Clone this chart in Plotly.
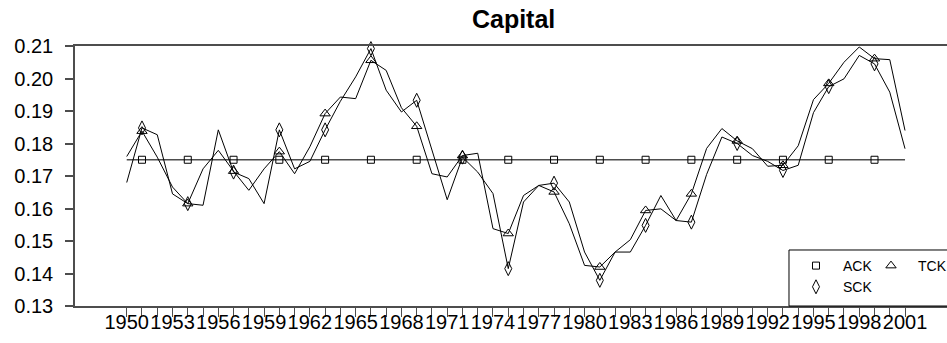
import plotly.graph_objects as go

# ---- data -----------------------------------------------------------------
years = list(range(1950, 2002))

ack = [0.175, 0.175, 0.175, 0.175, 0.175, 0.175, 0.175, 0.175, 0.175, 0.175,
       0.175, 0.175, 0.175, 0.175, 0.175, 0.175, 0.175, 0.175, 0.175, 0.175,
       0.175, 0.175, 0.175, 0.175, 0.175, 0.175, 0.175, 0.175, 0.175, 0.175,
       0.175, 0.175, 0.175, 0.175, 0.175, 0.175, 0.175, 0.175, 0.175, 0.175,
       0.175, 0.175, 0.175, 0.175, 0.175, 0.175, 0.175, 0.175, 0.175, 0.175,
       0.175, 0.175]

tck = [0.1760, 0.1838, 0.1758, 0.1666, 0.1615, 0.1722, 0.1779, 0.1715, 0.1656, 0.1722,
       0.1775, 0.1707, 0.1790, 0.1892, 0.1943, 0.1938, 0.2056, 0.2025, 0.1910, 0.1853,
       0.1707, 0.1697, 0.1763, 0.1770, 0.1538, 0.1523, 0.1640, 0.1671, 0.1651, 0.1553,
       0.1425, 0.1420, 0.1466, 0.1504, 0.1594, 0.1599, 0.1563, 0.1645, 0.1785, 0.1846,
       0.1808, 0.1784, 0.1730, 0.1733, 0.1793, 0.1935, 0.1985, 0.2050, 0.2097, 0.2061,
       0.2058, 0.1840]

sck = [0.1680, 0.1848, 0.1827, 0.1645, 0.1615, 0.1610, 0.1842, 0.1712, 0.1692, 0.1615,
       0.1842, 0.1722, 0.1745, 0.1842, 0.1930, 0.2005, 0.2092, 0.1964, 0.1897, 0.1933,
       0.1780, 0.1627, 0.1758, 0.1712, 0.1646, 0.1415, 0.1620, 0.1671, 0.1678, 0.1620,
       0.1466, 0.1379, 0.1466, 0.1466, 0.1548, 0.1640, 0.1563, 0.1558, 0.1705, 0.1820,
       0.1800, 0.1763, 0.1745, 0.1717, 0.1733, 0.1895, 0.1975, 0.1999, 0.2071, 0.2045,
       0.1958, 0.1784]

# years that carry a plotting symbol
marker_years = [1951, 1954, 1957, 1960, 1963, 1966, 1969, 1972, 1975,
                1978, 1981, 1984, 1987, 1990, 1993, 1996, 1999]

# years that get a tick label (every year gets a tick mark)
label_years = [1950, 1953, 1956, 1959, 1962, 1965, 1968, 1971, 1974,
               1977, 1980, 1983, 1986, 1989, 1992, 1995, 1998, 2001]

y_ticks = [0.13, 0.14, 0.15, 0.16, 0.17, 0.18, 0.19, 0.20, 0.21]

# ---- figure ---------------------------------------------------------------
FONT = "Liberation Sans, Arial, sans-serif"
AXIS_GREY = "#4d4d4d"


def at_years(values, sel):
    return [values[years.index(y)] for y in sel]


fig = go.Figure()

# name, values, symbol, size, legend group, line colour, line width, legend width
series = [
    ("ACK", ack, "square-open", 7, "g1", AXIS_GREY, 1.5, 16),
    ("TCK", tck, "triangle-up-open", 9, "g2", "black", 1, 28),
    ("SCK", sck, "diamond-tall-open", 10, "g1", "black", 1, 16),
]

for name, vals, symbol, size, group, lcolor, lwidth, lgw in series:
    fig.add_trace(go.Scatter(
        x=years, y=vals, mode="lines",
        line=dict(color=lcolor, width=lwidth),
        showlegend=False, hoverinfo="skip",
    ))

for name, vals, symbol, size, group, lcolor, lwidth, lgw in series:
    fig.add_trace(go.Scatter(
        x=marker_years, y=at_years(vals, marker_years), mode="markers",
        name=name, legendgroup=group, legendwidth=lgw,
        marker=dict(symbol=symbol, size=size, color="black",
                    line=dict(color="black", width=1)),
        cliponaxis=False,
    ))

# legend frame (runs off the right edge of the page)
fig.add_shape(type="rect", xref="paper", yref="paper",
              x0=0.8188, x1=1.03, y0=0.0, y1=0.2154,
              line=dict(color="black", width=1), fillcolor="white",
              layer="above")

fig.update_layout(
    width=947, height=343,
    margin=dict(l=75, r=0, t=46, b=37, autoexpand=False),
    paper_bgcolor="white", plot_bgcolor="white",
    font=dict(family=FONT, color="black"),
    title=dict(text="Capital", x=0.503, xref="paper", xanchor="center",
               y=1 - 19 / 343, yanchor="middle",
               font=dict(family=FONT, size=25, weight="bold", color="black")),
    xaxis=dict(
        range=[1946.61, 2003.75], automargin=False,
        tickmode="array", tickvals=years,
        ticktext=[str(y) if y in label_years else "" for y in years],
        tickangle=0,
        ticks="outside", ticklen=9, tickcolor=AXIS_GREY, tickwidth=1,
        showline=True, linecolor=AXIS_GREY, linewidth=1.5, mirror=True,
        showgrid=False, zeroline=False,
        tickfont=dict(family=FONT, size=20, color="black"),
        ticklabelstandoff=-12,
    ),
    yaxis=dict(
        range=[0.13, 0.21], automargin=False,
        tickmode="array", tickvals=y_ticks,
        ticktext=[f"{v:.2f}" for v in y_ticks],
        ticks="outside", ticklen=8, tickcolor=AXIS_GREY, tickwidth=1.5,
        showline=True, linecolor=AXIS_GREY, linewidth=1.5,
        showgrid=False, zeroline=False,
        tickfont=dict(family=FONT, size=20, color="black"),
        ticklabelstandoff=8,
    ),
    legend=dict(
        orientation="h", traceorder="grouped",
        x=0.8188, y=0.2154, xanchor="left", yanchor="top",
        itemwidth=44, entrywidthmode="pixels",
        tracegroupgap=0, bgcolor="rgba(0,0,0,0)", borderwidth=0,
        font=dict(family=FONT, size=14, color="black"),
        itemclick=False, itemdoubleclick=False,
    ),
    showlegend=True,
)

fig.write_html("out.html")
